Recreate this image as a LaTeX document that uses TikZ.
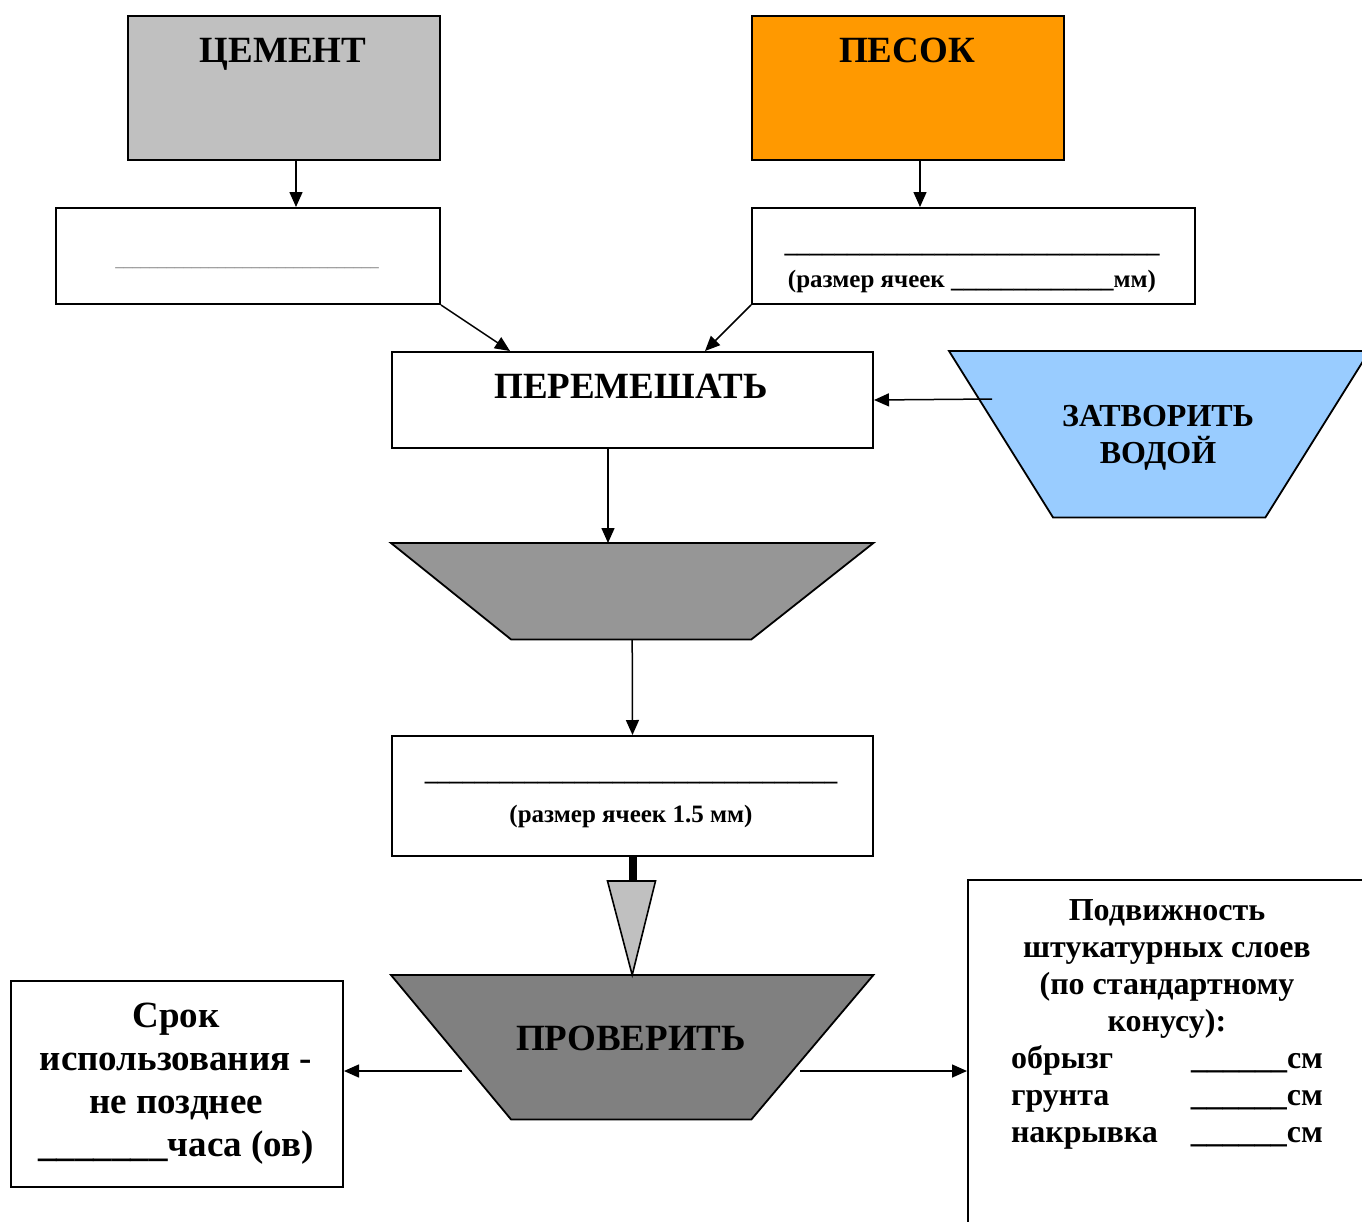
\documentclass[tikz,border=0pt]{standalone}
\usepackage{fontspec}
\setmainfont{Liberation Serif}
\usetikzlibrary{arrows.meta,calc}
\definecolor{cemgray}{HTML}{C0C0C0}
\definecolor{sandorange}{HTML}{FF9900}
\definecolor{waterblue}{HTML}{99CCFF}
\definecolor{pourgray}{HTML}{969696}
\definecolor{checkgray}{HTML}{808080}
\begin{document}
\begin{tikzpicture}[x=1pt,y=-1pt,
  box/.style={draw, line width=2pt, rectangle, inner sep=0pt, anchor=north west},
  ghost/.style={inner sep=0pt, anchor=north west},
  trap/.style={draw, line width=1.8pt, line join=miter},
  arr/.style={line width=1.5pt, -{Triangle[length=15pt,width=13pt]}},
  ttl/.style={font=\bfseries\fontsize{37}{42}\selectfont, anchor=base},
  small/.style={font=\bfseries\fontsize{25}{28}\selectfont, anchor=base},
  big/.style={font=\bfseries\fontsize{37}{43}\selectfont, align=center},
  mid/.style={font=\bfseries\fontsize{32}{37}\selectfont, align=center}]
\useasboundingbox (0,0) rectangle (1362,1221);
\fill[white] (0,0) rectangle (1362,1221);
\clip (0,0) rectangle (1362,1221);

% boxes
\node[box, fill=cemgray, minimum width=312pt, minimum height=144pt] (cem) at (127,15) {};
\node[box, fill=sandorange, minimum width=312pt, minimum height=144pt] (sand) at (751,15) {};
\node[box, minimum width=384pt, minimum height=96pt] (sieve1) at (55,207) {};
\node[box, minimum width=443pt, minimum height=96pt] (sieve2) at (751,207) {};
\node[box, minimum width=481pt, minimum height=96pt] (mix) at (391,351) {};
\node[box, minimum width=481pt, minimum height=120pt] (sieve3) at (391,735) {};
\node[box, minimum width=332pt, minimum height=206pt] (life) at (10,980) {};
\node[box, minimum width=410pt, minimum height=360pt] (mob) at (967,879) {};

% trapezoids
\node[ghost, minimum width=420pt, minimum height=166pt] (water) at (949,351) {};
\filldraw[trap, fill=waterblue] (water.north west) -- (water.north east)
  -- ($(water.south east)+(-104,0)$) -- ($(water.south west)+(104,0)$) -- cycle;
\node[ghost, minimum width=482pt, minimum height=96pt] (pour) at (391,543) {};
\filldraw[trap, fill=pourgray] (pour.north west) -- (pour.north east)
  -- ($(pour.south east)+(-122,0)$) -- ($(pour.south west)+(120,0)$) -- cycle;
\node[ghost, minimum width=482pt, minimum height=144pt] (check) at (391,975) {};
\filldraw[trap, fill=checkgray] (check.north west) -- (check.north east)
  -- ($(check.south east)+(-122,0)$) -- ($(check.south west)+(120,0)$) -- cycle;

% texts
\node[ttl] (cemT) at (283,62) {ЦЕМЕНТ};
\node[ttl] (sandT) at (907,62) {ПЕСОК};
\node[anchor=base, font=\fontsize{17}{19}\selectfont, text=black!55] (s1T) at (247,266) {\_\_\_\_\_\_\_\_\_\_\_\_\_\_\_\_\_\_\_\_\_\_\_\_\_\_\_\_\_\_\_};
\node[small] (s2L) at (972,252) {\_\_\_\_\_\_\_\_\_\_\_\_\_\_\_\_\_\_\_\_\_\_\_\_\_\_\_\_\_\_};
\node[small] (s2T) at (972,287) {(размер ячеек \_\_\_\_\_\_\_\_\_\_\_\_\_мм)};
\node[ttl] (mixT) at (631,398) {ПЕРЕМЕШАТЬ};
\node[mid] (waterT) at (1158,438) {ЗАТВОРИТЬ\\ВОДОЙ};
\node[small] (s3L) at (631,780) {\_\_\_\_\_\_\_\_\_\_\_\_\_\_\_\_\_\_\_\_\_\_\_\_\_\_\_\_\_\_\_\_\_};
\node[small] (s3T) at (631,822) {(размер ячеек 1.5 мм)};
\node[ttl] (checkT) at (631,1050) {ПРОВЕРИТЬ};
\node[big] (lifeT) at (176,1084) {Срок\\использования -\\не позднее\\\_\_\_\_\_\_\_часа (ов)};
\node[mid, anchor=north] (mobT) at (1167,896) {Подвижность\\штукатурных слоев\\(по стандартному\\конусу):\\
  \makebox[312pt]{обрызг\hfill\_\_\_\_\_\_см}\\
  \makebox[312pt]{грунта\hfill\_\_\_\_\_\_см}\\
  \makebox[312pt]{накрывка\hfill\_\_\_\_\_\_см}};

% connectors
\coordinate (wstart) at (992,399);
\coordinate (cl) at (462,1071);
\coordinate (cr) at (800,1071);
\draw[arr] ([xshift=12pt]cem.south) -- ([xshift=12pt]cem.south |- sieve1.north);
\draw[arr] ([xshift=12pt]sand.south) -- ([xshift=12pt]sand.south |- sieve2.north);
\draw[arr] (sieve1.south east) -- ([xshift=119pt]mix.north west);
\draw[arr] (sieve2.south west) -- ([xshift=314pt]mix.north west);
\draw[arr] (wstart) -- (mix.east);
\draw[arr] ([xshift=-24.5pt]mix.south) -- ([xshift=-24.5pt]mix.south |- pour.north);
\draw[arr] (pour.south) -- (sieve3.north);
\draw[line width=8pt] (sieve3.south) -- ++(0,26);
\filldraw[fill=cemgray, line width=1.6pt, line join=miter] ($(sieve3.south)+(-25,24)$) -- ++(48,0) -- (check.north) -- cycle;
\draw[arr] (cl) -- (cl -| life.east);
\draw[arr] (cr) -- (cr -| mob.west);
\end{tikzpicture}
\end{document}
